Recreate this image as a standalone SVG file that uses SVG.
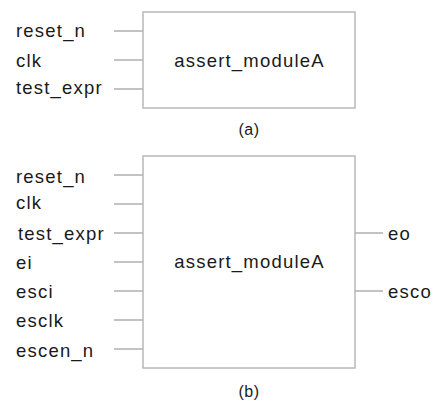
<svg xmlns="http://www.w3.org/2000/svg" width="439" height="403" viewBox="0 0 439 403">
<style>
.box{fill:#fff;stroke:#b8b8b8;stroke-width:1.5}
.w{stroke:#b0b0b0;stroke-width:1.3;fill:none}
text{font-family:"Liberation Sans",Arial,sans-serif;font-size:18.5px;fill:#1a1a1a;letter-spacing:1.2px}
.c{text-anchor:middle}
.cap{font-size:16px;letter-spacing:0.5px}
</style>
<rect width="439" height="403" fill="#fff"/>
<g id="connectors">
<path class="w" d="M114 31H143M114 60H143M114 89H143"/>
<path class="w" d="M114 175H143M114 204H143M114 233H143M114 262H143M114 291H143M114 320H143M114 349H143"/>
<path class="w" d="M355 233H383M355 291H383"/>
</g>
<g id="moduleA_a">
<rect class="box" x="143" y="12" width="212" height="96"/>
<text class="c" x="249.5" y="67">assert_moduleA</text>
</g>
<g id="ports_a">
<text x="16" y="37">reset_n</text>
<text x="16" y="66.5">clk</text>
<text x="16" y="94">test_expr</text>
</g>
<text class="c cap" x="249" y="135">(a)</text>
<g id="moduleA_b">
<rect class="box" x="143" y="156" width="212" height="212"/>
<text class="c" x="249.5" y="268">assert_moduleA</text>
</g>
<g id="ports_b">
<text x="16" y="183">reset_n</text>
<text x="16" y="208.5">clk</text>
<text x="18" y="240">test_expr</text>
<text x="16" y="268.5">ei</text>
<text x="16" y="297.5">esci</text>
<text x="16" y="327">esclk</text>
<text x="16" y="356.5">escen_n</text>
<text x="388" y="240">eo</text>
<text x="388" y="298">esco</text>
</g>
<text class="c cap" x="249" y="397">(b)</text>
</svg>
